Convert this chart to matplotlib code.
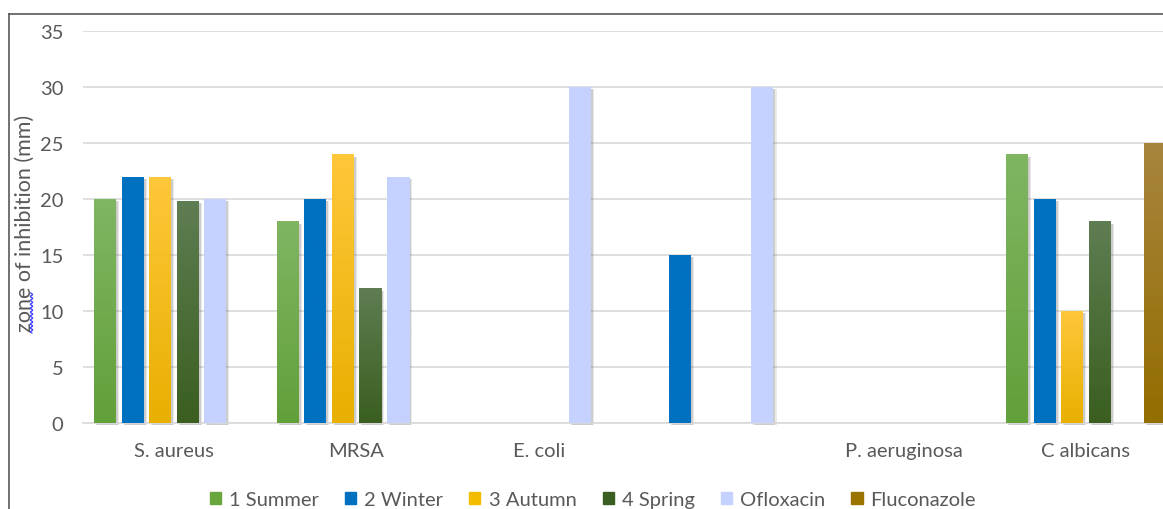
import numpy as np
import matplotlib
matplotlib.use('Agg')
import matplotlib.pyplot as plt
from matplotlib.colors import LinearSegmentedColormap
from matplotlib.patches import Patch
from matplotlib.lines import Line2D

categories = ['S. aureus', 'MRSA', 'E. coli', '', 'P. aeruginosa', 'C albicans']
series = ['1 Summer', '2 Winter', '3 Autumn', '4 Spring', 'Ofloxacin', 'Fluconazole']
summer = [20, 18, 0, 0, 0, 24]
winter = [22, 20, 0, 15, 0, 20]
autumn = [22, 24, 0, 0, 0, 10]
spring = [19.8, 12, 0, 0, 0, 18]
ofloxacin = [20, 22, 30, 30, 0, 0]
fluconazole = [0, 0, 0, 0, 0, 25]
values = [summer, winter, autumn, spring, ofloxacin, fluconazole]

# (top colour, bottom colour, legend colour)
colors = [('#80b562', '#62a03a', '#6aa63e'),
          ('#0070c0', '#0070c0', '#0070c0'),
          ('#ffc73a', '#e8b000', '#f2bc00'),
          ('#5f7d52', '#3a5f20', '#3b5f22'),
          ('#c5d1ff', '#c5d1ff', '#c5d1ff'),
          ('#a8843e', '#936e00', '#9a7300')]

plt.rcParams['font.family'] = ['Lato', 'DejaVu Sans']
txt = '#595959'

W, H = 1163, 510
fig = plt.figure(figsize=(W / 100, H / 100), dpi=100)
ax = fig.add_axes([82.7 / W, 1 - 423.6 / H, 1094.4 / W, (423.6 - 32.3) / H])

pitch = 27.5 / 182.4
bw = 22 / 182.4
x = np.arange(len(categories))

for i, (vals, (top, bot, _)) in enumerate(zip(values, colors)):
    cmap = LinearSegmentedColormap.from_list('g%d' % i, [bot, top])
    grad = np.linspace(1, 0, 100).reshape(-1, 1)
    for j, v in enumerate(vals):
        if v <= 0:
            continue
        xc = x[j] + (i - 2.5) * pitch
        x0 = xc - bw / 2
        # soft shadow
        for k, a in [(0.018, 0.12), (0.011, 0.2)]:
            ax.add_patch(plt.Rectangle((x0 + k, -0.25), bw, v + 0.05, color='#555555',
                                       alpha=a, lw=0, zorder=2, clip_on=False))
        ax.imshow(grad, cmap=cmap, vmin=0, vmax=1, extent=[x0, x0 + bw, 0, v],
                  aspect='auto', zorder=3, interpolation='bilinear')

ax.set_xlim(-0.5, len(categories) - 0.5)
ax.set_ylim(0, 35)
ax.set_yticks(np.arange(0, 36, 5))
ax.set_xticks(x)
ax.set_xticklabels(categories)
ax.grid(axis='y', color='#d9d9d9', lw=1.2, zorder=0)
ax.set_axisbelow(True)
for s in ['top', 'right', 'left']:
    ax.spines[s].set_visible(False)
ax.spines['bottom'].set_color('#d9d9d9')
ax.spines['bottom'].set_linewidth(1.2)
ax.tick_params(axis='both', length=0, labelsize=14.5, labelcolor=txt)
ax.tick_params(axis='y', pad=14)
ax.tick_params(axis='x', pad=14)

fig.text(25 / W, 1 - 223 / H, 'zone of inhibition (mm)', rotation=90, ha='center',
         va='center', fontsize=15.5, color=txt)
# spell-check squiggle under "zone"
yy = np.linspace(294, 334, 60)
xx = 31.5 + 1.2 * np.sin(yy * 1.6)
fig.add_artist(Line2D(xx / W, 1 - yy / H, color='#3b3bff', lw=0.9))

# outer frame (cropped chart area)
fig.add_artist(Line2D([9 / W, 9 / W], [0, 1 - 14.7 / H], color='#595959', lw=1.2))
fig.add_artist(Line2D([9 / W, 1], [1 - 14.7 / H, 1 - 14.7 / H], color='#595959', lw=1.2))

handles = [Patch(color=c[2]) for c in colors]
fig.legend(handles, series, loc='center', bbox_to_anchor=(593 / W, 1 - 501 / H),
           ncol=6, frameon=False, fontsize=14.5, handlelength=0.55, handleheight=0.55,
           handletextpad=0.4, columnspacing=1.3, labelcolor=txt)

fig.savefig('out.png', dpi=100)
